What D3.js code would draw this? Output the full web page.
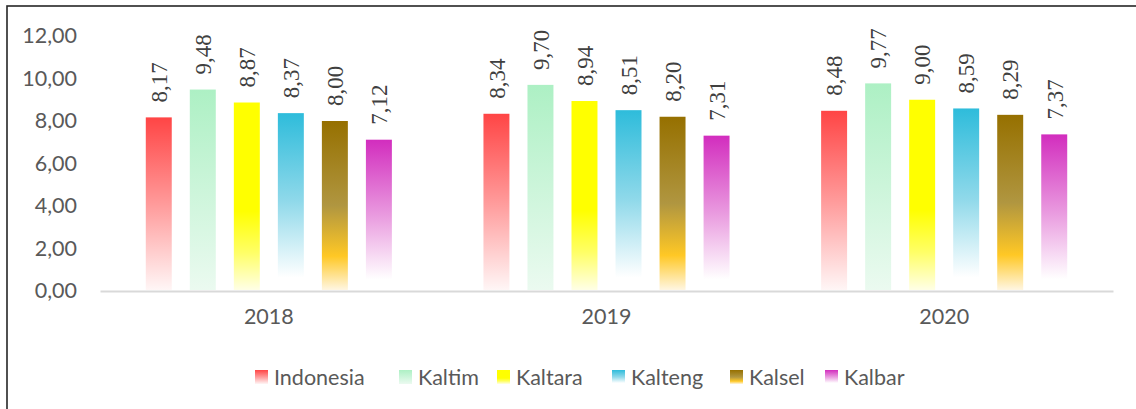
<!DOCTYPE html>
<html>
<head>
<meta charset="utf-8">
<script src="https://cdn.jsdelivr.net/npm/d3@7"></script>
<style>
  html, body { margin: 0; padding: 0; background: #fff; }
  svg { display: block; }
</style>
</head>
<body>
<svg id="chart" width="1136" height="409"></svg>
<script>
const years = ["2018", "2019", "2020"];
const regions = ["Indonesia", "Kaltim", "Kaltara", "Kalteng", "Kalsel", "Kalbar"];
const valuesIndonesia = [8.17, 8.34, 8.48];
const valuesKaltim    = [9.48, 9.70, 9.77];
const valuesKaltara   = [8.87, 8.94, 9.00];
const valuesKalteng   = [8.37, 8.51, 8.59];
const valuesKalsel    = [8.00, 8.20, 8.29];
const valuesKalbar    = [7.12, 7.31, 7.37];
const yTicks = [0, 2, 4, 6, 8, 10, 12];

const seriesValues = [valuesIndonesia, valuesKaltim, valuesKaltara, valuesKalteng, valuesKalsel, valuesKalbar];

const gradients = [
  [[0, "#FF4545"], [0.5, "#FF9A9A"], [1, "#FFF6F6"]],
  [[0, "#ADF0C4"], [1, "#EBFAF0"]],
  [[0, "#FFFF00"], [0.58, "#FFFF00"], [0.8, "#FFFF66"], [1, "#FFFFE6"]],
  [[0, "#2EBCDB"], [0.5, "#90D9EA"], [0.93, "#FFFFFF"], [1, "#FFFFFF"]],
  [[0, "#967000"], [0.5, "#B09640"], [0.8, "#FFC825"], [1, "#FFF6E2"]],
  [[0, "#D22DBE"], [0.5, "#E99ADF"], [0.93, "#FFFFFF"], [1, "#FFFFFF"]]
];

const SERIF = '"Liberation Serif"';
const SANS = 'Lato';

const svg = d3.select("#chart");
const fmt = v => d3.format(".2f")(v).replace(".", ",");

const defs = svg.append("defs");
gradients.forEach((stops, i) => {
  const g = defs.append("linearGradient")
    .attr("id", "grad" + i)
    .attr("x1", 0).attr("y1", 0).attr("x2", 0).attr("y2", 1);
  stops.forEach(s => g.append("stop").attr("offset", s[0]).attr("stop-color", s[1]));
});

// Outer border (only top and left visible)
svg.append("rect")
  .attr("x", 7).attr("y", 6).attr("width", 1150).attr("height", 420)
  .attr("fill", "none").attr("stroke", "#262626").attr("stroke-width", 1.6);

const plotLeft = 100, plotRight = 1113;
const y = d3.scaleLinear().domain([0, 12]).range([291, 36]);
const x0 = d3.scaleBand().domain(years).range([plotLeft, plotRight]).padding(0);
const x1 = d3.scaleBand().domain(regions).range([0, x0.bandwidth()])
  .paddingInner(0.41).paddingOuter(1.04);

// Y axis labels
const yAxis = d3.axisLeft(y).tickValues(yTicks).tickFormat(fmt).tickSize(0).tickPadding(0);
const ya = svg.append("g").attr("transform", "translate(77,0)").call(yAxis);
ya.attr("font-family", SANS).attr("font-size", 21.5);
ya.select(".domain").remove();
ya.selectAll("text").attr("fill", "#595959");

// X axis
const xAxis = d3.axisBottom(x0).tickSize(0).tickPadding(0);
const xa = svg.append("g").attr("transform", "translate(0,291)").call(xAxis);
xa.attr("font-family", SANS).attr("font-size", 21.5);
xa.select(".domain").attr("stroke", "#D9D9D9").attr("stroke-width", 2);
xa.selectAll("text").attr("fill", "#595959").attr("dy", "1.55em");

// Bars
const groups = svg.append("g").selectAll("g")
  .data(years)
  .join("g")
  .attr("transform", d => `translate(${x0(d)},0)`);

groups.each(function(yr, yi) {
  const g = d3.select(this);
  const data = regions.map((r, ri) => ({ r, ri, v: seriesValues[ri][yi] }));
  g.selectAll("rect")
    .data(data)
    .join("rect")
    .attr("x", d => x1(d.r))
    .attr("width", x1.bandwidth())
    .attr("y", d => y(d.v))
    .attr("height", d => y(0) - y(d.v) - 1)
    .attr("fill", d => `url(#grad${d.ri})`);
  g.selectAll("text.lbl")
    .data(data)
    .join("text")
    .attr("class", "lbl")
    .attr("transform", d => `translate(${x1(d.r) + x1.bandwidth() / 2},${y(d.v) - 15}) rotate(-90)`)
    .attr("dy", "0.36em")
    .attr("text-anchor", "start")
    .attr("fill", "#404040")
    .style("font-family", SERIF)
    .style("font-size", "23px")
    .text(d => fmt(d.v));
});

// Legend
const legendX = [255, 399, 497, 612, 730, 825];
const leg = svg.append("g").selectAll("g")
  .data(regions)
  .join("g")
  .attr("transform", (d, i) => `translate(${legendX[i]},370)`);
leg.append("rect")
  .attr("width", 13).attr("height", 14)
  .attr("fill", (d, i) => `url(#grad${i})`);
leg.append("text")
  .attr("x", 19).attr("y", 7).attr("dy", "0.36em")
  .attr("fill", "#595959")
  .style("font-family", SANS)
  .style("font-size", "21.5px")
  .text(d => d);
</script>
</body>
</html>
